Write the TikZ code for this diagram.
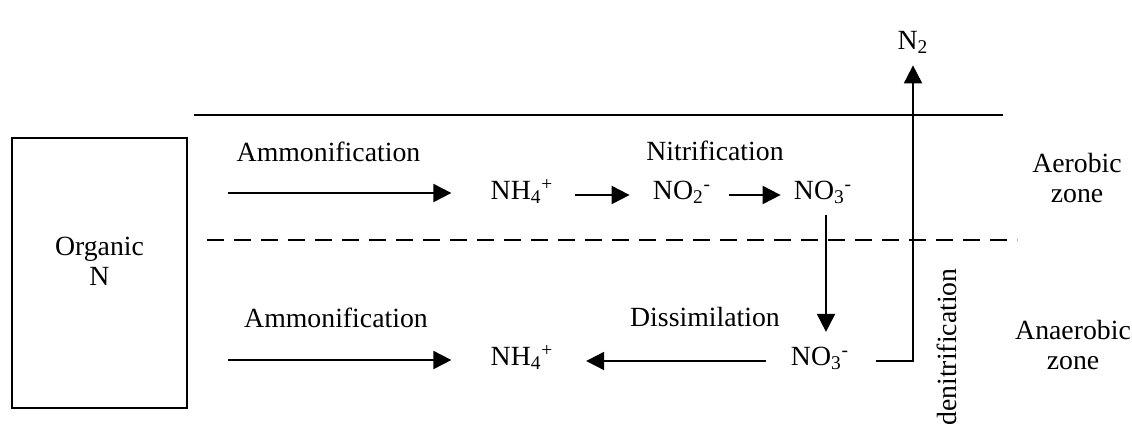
\documentclass[tikz,border=0pt]{standalone}
\usepackage{fontspec}
\setmainfont{Liberation Serif}
\usetikzlibrary{arrows.meta}
\tikzset{flowarrow/.style={-{Triangle[length=0.36cm, width=0.36cm]}, line width=1.1pt}}
\tikzset{species/.style={inner sep = 0pt, text height = 1.7ex, text depth = 0.6ex}}

\begin{document}
\begin{tikzpicture}[font=\fontsize{15.8}{17}\selectfont]
\useasboundingbox (0,0) rectangle (22.64,8.62);
\draw[line width=1.1pt] (0.24,0.46) rectangle (3.74,5.86);
\node[align=center] (orgN) at (1.99,3.4) {Organic\\N};
\draw[line width=1.1pt] (3.88,6.32) -- (20.06,6.32);
\draw[line width=1.1pt, dash pattern=on 0.34cm off 0.2cm] (4.14,3.82) -- (20.34,3.82);

\node (ammA) at (6.57,5.58) {Ammonification};
\node (ammB) at (6.72,2.26) {Ammonification};
\node (nitr) at (14.3,5.6) {Nitrification};
\node (diss) at (14.1,2.28) {Dissimilation};

\node[species] (nh4A) at (10.44,4.72) {NH\textsubscript{4}\textsuperscript{+}};
\node[species] (no2A) at (13.64,4.72) {NO\textsubscript{2}\textsuperscript{-}};
\node[species] (no3A) at (16.46,4.72) {NO\textsubscript{3}\textsuperscript{-}};
\node[species] (nh4B) at (10.44,1.40) {NH\textsubscript{4}\textsuperscript{+}};
\node[species] (no3B) at (16.4,1.40) {NO\textsubscript{3}\textsuperscript{-}};
\node (n2) at (18.26,7.78) {N\textsubscript{2}};
\node[rotate=90] (denit) at (18.94,1.68) {denitrification};
\node[align=center] (aer) at (21.54,5.06) {Aerobic\\zone};
\node[align=center, inner sep=0pt] (anaer) at (21.46,1.72) {Anaerobic\\zone};

\coordinate (ammAstart) at (4.56,4.76);
\coordinate (ammBstart) at (4.56,1.42);
\draw[flowarrow, shorten >=0.78cm] (ammAstart) -- (ammAstart -| nh4A.west);
\draw[flowarrow, shorten >=0.78cm] (ammBstart) -- (ammBstart -| nh4B.west);
\draw[flowarrow, shorten <=0.42cm, shorten >=0.46cm] (nh4A.east) -- (no2A.west);
\draw[flowarrow, shorten <=0.36cm, shorten >=0.26cm] (no2A.east) -- (no3A.west);
\draw[flowarrow, shorten <=0.2cm, shorten >=0.39cm] ([xshift=0.06cm]no3A.south) -- ([xshift=0.06cm]no3A.south |- no3B.north);
\draw[flowarrow, shorten <=0.5cm, shorten >=0.65cm] (no3B.west) -- (nh4B.east);
\draw[flowarrow, shorten <=0.54cm, shorten >=0.12cm] (no3B.east) -| (n2.south);
\end{tikzpicture}
\end{document}
